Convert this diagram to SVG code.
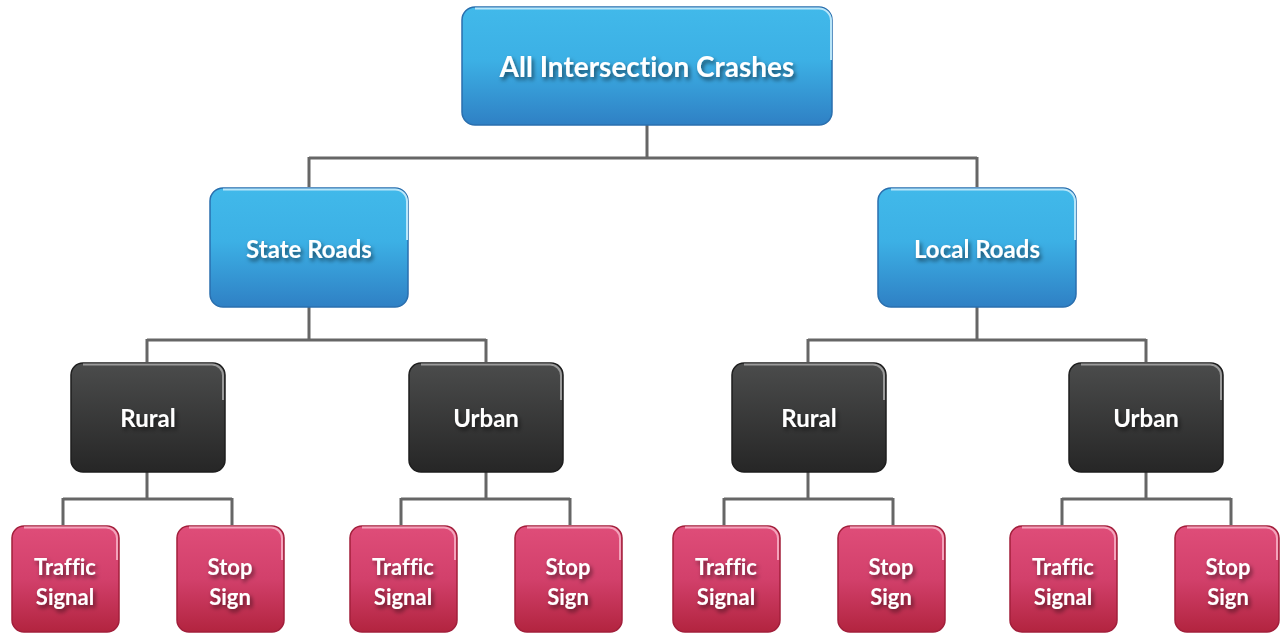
<svg xmlns="http://www.w3.org/2000/svg" width="1280" height="634" viewBox="0 0 1280 634">
<defs>
<linearGradient id="gBlue" x1="0" y1="0" x2="0" y2="1">
<stop offset="0" stop-color="#41b9ea"/><stop offset="0.45" stop-color="#3cb0e5"/><stop offset="1" stop-color="#2f80c4"/>
</linearGradient>
<linearGradient id="gDark" x1="0" y1="0" x2="0" y2="1">
<stop offset="0" stop-color="#4b4c4c"/><stop offset="1" stop-color="#262626"/>
</linearGradient>
<linearGradient id="gPink" x1="0" y1="0" x2="0" y2="1">
<stop offset="0" stop-color="#df4d79"/><stop offset="0.5" stop-color="#d2406b"/><stop offset="1" stop-color="#b2243f"/>
</linearGradient>
<filter id="ts" x="-20%" y="-40%" width="140%" height="180%">
<feDropShadow dx="2" dy="3" stdDeviation="2" flood-color="#000" flood-opacity="0.55"/>
</filter>
</defs>
<style>
.lnk{fill:none;stroke:#666;stroke-width:3}
.b{fill:url(#gBlue);stroke:#2a6fae;stroke-width:1.5}
.d{fill:url(#gDark);stroke:#1e1e1e;stroke-width:1.5}
.p{fill:url(#gPink);stroke:#a21f3b;stroke-width:1.5}
.hb{fill:none;stroke:#b9e6f9;stroke-width:2}
.hd{fill:none;stroke:#9a9a9a;stroke-width:2}
.hp{fill:none;stroke:#f3a3bb;stroke-width:2}
text{font-family:Lato,"Open Sans","Liberation Sans",sans-serif;font-weight:bold;fill:#fff;text-anchor:middle;filter:url(#ts);font-variant-ligatures:none}
.t1{font-size:28px}
.t2{font-size:24px}
.t3{font-size:22px}
</style>
<g id="connectors">
<path class="lnk" d="M647 125V158M309 158H977M309 157V187M977 157V187"/>
<path class="lnk" d="M309 307V340M147 340H486M147 339V362M486 339V362"/>
<path class="lnk" d="M977 307V340M808 340H1146M808 339V362M1146 339V362"/>
<path class="lnk" d="M147 472V499M63 499H232M63 498V525M232 498V525"/>
<path class="lnk" d="M486 472V499M401 499H570M401 498V525M570 498V525"/>
<path class="lnk" d="M808 472V499M724 499H893M724 498V525M893 498V525"/>
<path class="lnk" d="M1146 472V499M1062 499H1231M1062 498V525M1231 498V525"/>
</g>
<g id="n-all">
<rect class="b" x="462" y="7" width="370" height="118" rx="13"/>
<path class="hb" d="M475 8.5H819a12 12 0 0 1 12 12V60"/>
<text class="t1" x="647" y="77">All Intersection Crashes</text>
</g>
<g id="n-state">
<rect class="b" x="210" y="188" width="198" height="119" rx="13"/>
<path class="hb" d="M223 189.5H395a12 12 0 0 1 12 12V240"/>
<text class="t2" x="309" y="258">State Roads</text>
</g>
<g id="n-local">
<rect class="b" x="878" y="188" width="198" height="119" rx="13"/>
<path class="hb" d="M891 189.5H1063a12 12 0 0 1 12 12V240"/>
<text class="t2" x="977" y="258">Local Roads</text>
</g>
<g id="n-s-rural">
<rect class="d" x="71" y="363" width="154" height="109" rx="12"/>
<path class="hd" d="M83 364.5H212a11 11 0 0 1 11 11V400"/>
<text class="t2" x="148" y="427">Rural</text>
</g>
<g id="n-s-urban">
<rect class="d" x="409" y="363" width="154" height="109" rx="12"/>
<path class="hd" d="M421 364.5H550a11 11 0 0 1 11 11V400"/>
<text class="t2" x="486" y="427">Urban</text>
</g>
<g id="n-l-rural">
<rect class="d" x="732" y="363" width="154" height="109" rx="12"/>
<path class="hd" d="M744 364.5H873a11 11 0 0 1 11 11V400"/>
<text class="t2" x="809" y="427">Rural</text>
</g>
<g id="n-l-urban">
<rect class="d" x="1069" y="363" width="154" height="109" rx="12"/>
<path class="hd" d="M1081 364.5H1210a11 11 0 0 1 11 11V400"/>
<text class="t2" x="1146" y="427">Urban</text>
</g>
<g id="n-s-r-ts">
<rect class="p" x="12" y="526" width="107" height="106" rx="12"/>
<path class="hp" d="M24 527.5H106a11 11 0 0 1 11 11V560"/>
<text class="t3" x="65" y="575">Traffic</text><text class="t3" x="65" y="605">Signal</text>
</g>
<g id="n-s-r-ss">
<rect class="p" x="177" y="526" width="107" height="106" rx="12"/>
<path class="hp" d="M189 527.5H271a11 11 0 0 1 11 11V560"/>
<text class="t3" x="230" y="575">Stop</text><text class="t3" x="230" y="605">Sign</text>
</g>
<g id="n-s-u-ts">
<rect class="p" x="350" y="526" width="107" height="106" rx="12"/>
<path class="hp" d="M362 527.5H444a11 11 0 0 1 11 11V560"/>
<text class="t3" x="403" y="575">Traffic</text><text class="t3" x="403" y="605">Signal</text>
</g>
<g id="n-s-u-ss">
<rect class="p" x="515" y="526" width="107" height="106" rx="12"/>
<path class="hp" d="M527 527.5H609a11 11 0 0 1 11 11V560"/>
<text class="t3" x="568" y="575">Stop</text><text class="t3" x="568" y="605">Sign</text>
</g>
<g id="n-l-r-ts">
<rect class="p" x="673" y="526" width="107" height="106" rx="12"/>
<path class="hp" d="M685 527.5H767a11 11 0 0 1 11 11V560"/>
<text class="t3" x="726" y="575">Traffic</text><text class="t3" x="726" y="605">Signal</text>
</g>
<g id="n-l-r-ss">
<rect class="p" x="838" y="526" width="107" height="106" rx="12"/>
<path class="hp" d="M850 527.5H932a11 11 0 0 1 11 11V560"/>
<text class="t3" x="891" y="575">Stop</text><text class="t3" x="891" y="605">Sign</text>
</g>
<g id="n-l-u-ts">
<rect class="p" x="1010" y="526" width="107" height="106" rx="12"/>
<path class="hp" d="M1022 527.5H1104a11 11 0 0 1 11 11V560"/>
<text class="t3" x="1063" y="575">Traffic</text><text class="t3" x="1063" y="605">Signal</text>
</g>
<g id="n-l-u-ss">
<rect class="p" x="1175" y="526" width="104" height="106" rx="12"/>
<path class="hp" d="M1187 527.5H1266a11 11 0 0 1 11 11V560"/>
<text class="t3" x="1228" y="575">Stop</text><text class="t3" x="1228" y="605">Sign</text>
</g>
</svg>
